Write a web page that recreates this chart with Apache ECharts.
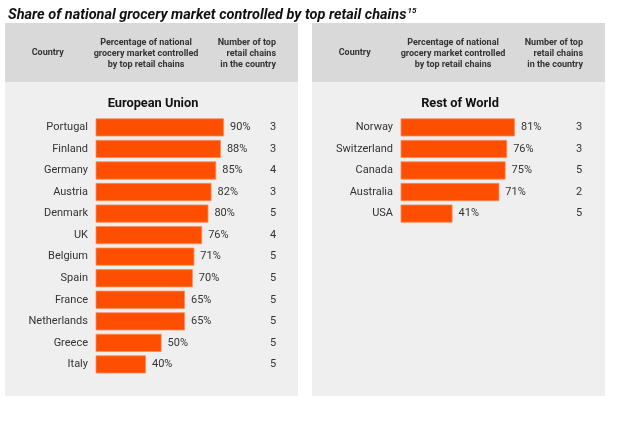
<!DOCTYPE html>
<html><head><meta charset="utf-8">
<script src="https://cdn.jsdelivr.net/npm/echarts@6/dist/echarts.min.js"></script>
<style>html,body{margin:0;padding:0;background:#fff}#c{width:640px;height:435px}</style>
</head><body><div id="c"></div>
<script>
var euCountries = ['Portugal','Finland','Germany','Austria','Denmark','UK','Belgium','Spain','France','Netherlands','Greece','Italy'];
var euShare = [90,88,85,82,80,76,71,70,65,65,50,40];
var euChains = [3,3,4,3,5,4,5,5,5,5,5,5];
var rowCountries = ['Norway','Switzerland','Canada','Australia','USA'];
var rowShare = [81,76,75,71,41];
var rowChains = [3,3,5,2,5];
var titleText = 'Share of national grocery market controlled by top retail chains';
var footnote = '15';
var panelTitles = ['European Union','Rest of World'];
var headCountry = 'Country';
var headPct = 'Percentage of national\ngrocery market controlled\nby top retail chains';
var headNum = 'Number of top\nretail chains\nin the country';

var FONT = 'Roboto, "Noto Sans", sans-serif';
var BAR = '#fe4f00';
var chart = echarts.init(document.getElementById('c'), null, {renderer:'canvas'});

var band = 21.55, top0 = 116.6;
function panelGraphics(px, title) {
  return [
    {type:'rect', shape:{x:px, y:23, width:293, height:373}, style:{fill:'#efefef'}, z:-10},
    {type:'rect', shape:{x:px, y:23, width:293, height:59}, style:{fill:'#d9d9d9'}, z:-9},
    {type:'text', style:{text:headCountry, x:px+42.7, y:53, textAlign:'center', textVerticalAlign:'middle', font:'bold 9px '+FONT, fill:'#333'}},
    {type:'text', style:{text:headPct, x:px+141, y:54, textAlign:'center', textVerticalAlign:'middle', font:'bold 9px '+FONT, fill:'#333', lineHeight:11}},
    {type:'text', style:{text:headNum, x:px+271, y:54, textAlign:'right', textVerticalAlign:'middle', font:'bold 9px '+FONT, fill:'#333', lineHeight:11}},
    {type:'text', style:{text:title, x:px+148, y:103.5, textAlign:'center', textVerticalAlign:'middle', font:'bold 12.8px '+FONT, fill:'#111'}}
  ];
}

var g = [];
g = g.concat(panelGraphics(5, panelTitles[0]), panelGraphics(312, panelTitles[1]));

function mkSeries(idx, data) {
  return {
    type:'bar', xAxisIndex:idx, yAxisIndex:idx*2, data:data, barCategoryGap:'16%',
    itemStyle:{color:BAR, borderColor:'#fb8d5c', borderWidth:0.8},
    label:{show:true, position:'right', distance:6, formatter:'{c}%', color:'#333', fontSize:11, fontFamily:FONT},
    silent:true
  };
}
function yAxes(gi, cats, chains, margin) {
  return [
    {type:'category', gridIndex:gi, data:cats, inverse:true, axisLine:{show:false}, axisTick:{show:false},
     axisLabel:{margin:8, color:'#333', fontSize:11, fontFamily:FONT}},
    {type:'category', gridIndex:gi, position:'right', data:chains, inverse:true, axisLine:{show:false}, axisTick:{show:false},
     axisLabel:{margin:margin, align:'center', color:'#333', fontSize:11, fontFamily:FONT}}
  ];
}

var option = {
  animation:false,
  backgroundColor:'#ffffff',
  title:{left:3, top:2, text:'{t|'+titleText+'}{s|'+footnote+'}',
    textStyle:{rich:{
      t:{fontFamily:FONT, fontSize:14.5, fontWeight:'bold', fontStyle:'italic', color:'#111'},
      s:{fontFamily:FONT, fontSize:8, fontWeight:'bold', fontStyle:'italic', color:'#111', verticalAlign:'top', padding:[0,0,8,1]}
    }}},
  graphic:g,
  grid:[
    {left:96, top:top0, width:153, height:band*euCountries.length},
    {left:401, top:top0, width:153, height:band*rowCountries.length}
  ],
  xAxis:[
    {type:'value', gridIndex:0, min:8, max:106, show:false},
    {type:'value', gridIndex:1, min:8, max:106, show:false}
  ],
  yAxis: yAxes(0, euCountries, euChains, 24).concat(yAxes(1, rowCountries, rowChains, 25)),
  series:[mkSeries(0, euShare), mkSeries(1, rowShare)]
};
chart.setOption(option);
</script></body></html>
